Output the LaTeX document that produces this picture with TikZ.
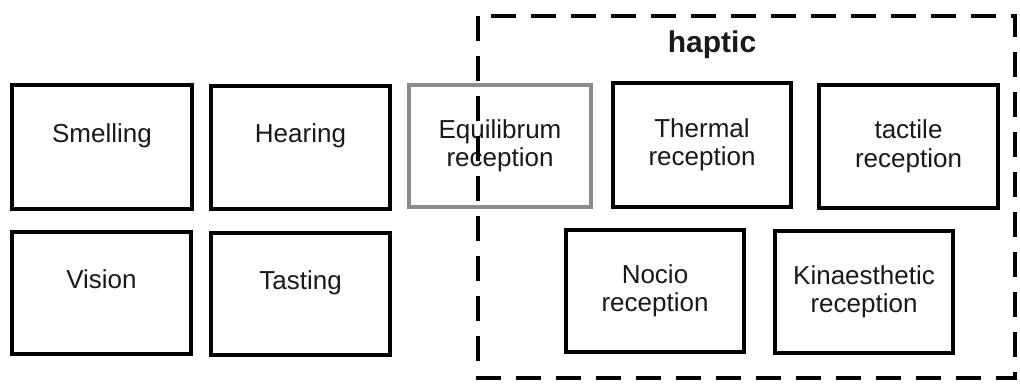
\documentclass[tikz,border=0pt]{standalone}
\usepackage{fontspec}
\setmainfont{Liberation Sans}
\begin{document}
\begin{tikzpicture}[x=1pt,y=-1pt,
  sense/.style={draw=black, line width=4pt, fill=white, align=center, inner sep=0pt,
    font=\fontsize{26}{28.5}\selectfont, text=black!90},
  grayed/.style={sense, draw=black!45},
  groupbox/.style={draw=black, line width=4pt, dash pattern=on 25pt off 15pt, inner sep=0pt},
  title/.style={font=\bfseries\fontsize{30}{34}\selectfont, text=black!90}]
\useasboundingbox (0,0) rectangle (1020,383);
\node[sense, minimum width=180pt, minimum height=124pt] (smell) at (102,147) {Smelling\\\mbox{}};
\node[sense, minimum width=179pt, minimum height=123pt] (hear) at (300.5,147.5) {Hearing\\\mbox{}};
\node[sense, minimum width=179pt, minimum height=122pt] (vision) at (101.5,293) {Vision\\\mbox{}};
\node[sense, minimum width=179pt, minimum height=122pt] (taste) at (300.5,294) {Tasting\\\mbox{}};
\node[grayed, minimum width=182pt, minimum height=122pt] (equi) at (500,146) {Equilibrum\\reception};
\node[sense, minimum width=178pt, minimum height=124pt] (therm) at (702,145) {Thermal\\reception};
\node[sense, minimum width=179pt, minimum height=123pt] (tact) at (908.5,146.5) {tactile\\reception};
\node[sense, minimum width=178pt, minimum height=122pt] (nocio) at (655,291) {Nocio\\reception};
\node[sense, minimum width=178pt, minimum height=122pt] (kin) at (864,292) {Kinaesthetic\\reception};
\coordinate (hnw) at (478,16);
\coordinate (hse) at (1015,378);
\draw[groupbox] (hnw) rectangle (hse);
\node[title] (haptic) at (712,45) {haptic};
\end{tikzpicture}
\end{document}
